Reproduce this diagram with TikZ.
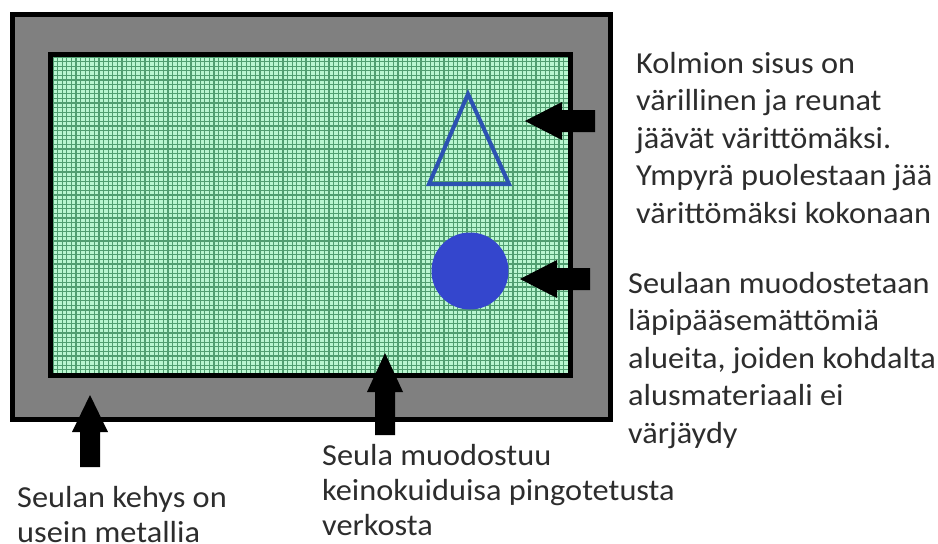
\documentclass[tikz,border=0pt]{standalone}
\usepackage{fontspec}
\setmainfont{Carlito}[FakeStretch=1.06]
\definecolor{framegray}{RGB}{128,128,128}
\definecolor{meshcell}{RGB}{185,246,208}
\definecolor{meshline}{RGB}{80,158,112}
\definecolor{triblue}{RGB}{44,82,178}
\definecolor{circblue}{RGB}{52,70,205}
\definecolor{txt}{RGB}{45,45,45}
\tikzset{
  frameline/.style={draw=black, line width=5pt},
  blockarrow/.style={fill=black, draw=none},
  label/.style={anchor=base west, inner sep=0pt, text=txt, font=\fontsize{30.5}{36}\selectfont},
}
\begin{document}
\begin{tikzpicture}[x=1pt,y=-1pt]
\useasboundingbox (0,0) rectangle (938,544);
\fill[white] (0,0) rectangle (938,544);
% outer frame
\draw[frameline, fill=framegray] (12.5,14.5) rectangle (610.5,419.5);
% mesh
\begin{scope}
  \clip (50.5,54.5) rectangle (570.5,375.5);
  \fill[meshcell] (50.5,54.5) rectangle (570.5,375.5);
  \foreach \i in {0,...,115} {
    \draw[meshline, line width=1.3pt] (53+\i*4.6,50) -- (53+\i*4.6,380);
  }
  \foreach \j in {0,...,72} {
    \draw[meshline, line width=1.3pt] (45,57+\j*4.6) -- (575,57+\j*4.6);
  }
\end{scope}
\draw[frameline] (50.5,54.5) rectangle (570.5,375.5);
% triangle and circle
\coordinate (tA) at (468,94);
\coordinate (tB) at (429,184);
\coordinate (tC) at (509,184);
\draw[triblue, line width=4pt, line join=miter] (tA) -- (tB) -- (tC) -- cycle;
\node[circle, fill=circblue, minimum size=77pt, inner sep=0pt] (circ) at (470,271) {};
% block arrows
\fill[blockarrow] (525,121) -- (562,102) -- (562,110) -- (595,110) -- (595,132) -- (562,132) -- (562,140) -- cycle;
\fill[blockarrow] (520,279) -- (557,260) -- (557,268) -- (590,268) -- (590,290) -- (557,290) -- (557,298) -- cycle;
\fill[blockarrow] (90,395) -- (108,432) -- (100,432) -- (100,467) -- (80,467) -- (80,432) -- (72,432) -- cycle;
\fill[blockarrow] (385,353) -- (403,392) -- (395,392) -- (395,435) -- (375,435) -- (375,392) -- (367,392) -- cycle;
% texts
\node[label] (r1) at (636,73) {Kolmion sisus on};
\node[label] (r2) at (636,110.5) {värillinen ja reunat};
\node[label] (r3) at (636,148) {jäävät värittömäksi.};
\node[label] (r4) at (636,185.5) {Ympyrä puolestaan jää};
\node[label] (r5) at (636,223) {värittömäksi kokonaan};
\node[label] (s1) at (628,293) {Seulaan muodostetaan};
\node[label] (s2) at (628,330.5) {läpipääsemättömiä};
\node[label] (s3) at (628,368) {alueita, joiden kohdalta};
\node[label] (s4) at (628,405.5) {alusmateriaali ei};
\node[label] (s5) at (628,443) {värjäydy};
\node[label] (m1) at (322,465) {Seula muodostuu};
\node[label] (m2) at (322,500) {keinokuiduisa pingotetusta};
\node[label] (m3) at (322,535) {verkosta};
\node[label] (k1) at (17,507) {Seulan kehys on};
\node[label] (k2) at (17,542) {usein metallia};
\end{tikzpicture}
\end{document}
